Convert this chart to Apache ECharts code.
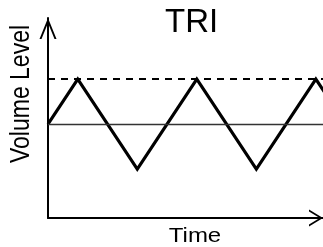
<!DOCTYPE html>
<html>
<head>
<meta charset="utf-8">
<script src="https://cdn.jsdelivr.net/npm/echarts@6/dist/echarts.min.js"></script>
<style>
html,body{margin:0;padding:0;background:#fff;}
#chart{width:323px;height:247px;}
</style>
</head>
<body>
<div id="chart"></div>
<script>
// Data
var titleText = 'TRI';
var xAxisName = 'Time';
var yAxisName = 'Volume Level';
var time  = [0, 1, 3, 5, 7, 9, 10];
var level = [0, 1, -1, 1, -1, 1, 0];
var peakLevel = 1;
var baseLevel = 0;
var timeRange = [0, 9.24];
var levelRange = [-2.09, 2.36];

var FONT = '"Liberation Sans", Arial, Helvetica, sans-serif';
var chart = echarts.init(document.getElementById('chart'), null, {renderer: 'canvas'});

var yArrow = 'path://M8.5,0 L17,21 L15,21 L8.5,4.9 L2,21 L0,21 Z';
var xArrow = 'path://M8.5,0 L17,14 L15,14 L8.5,3.3 L2,14 L0,14 Z';

var seriesData = time.map(function (t, i) { return [t, level[i]]; });

chart.setOption({
  animation: false,
  backgroundColor: '#fff',
  title: {
    text: titleText,
    left: 165,
    top: 6,
    padding: 0,
    textStyle: {fontFamily: FONT, fontSize: 33, fontWeight: 'normal', color: '#000'}
  },
  grid: {left: 48, right: 0, top: 18, bottom: 29, containLabel: false, outerBoundsMode: 'none'},
  xAxis: {
    type: 'value',
    min: timeRange[0], max: timeRange[1],
    axisLine: {show: true, onZero: false, lineStyle: {color: '#000', width: 2},
      symbol: ['none', xArrow], symbolSize: [17, 14], symbolOffset: [0, -7]},
    axisTick: {show: false}, axisLabel: {show: false}, splitLine: {show: false}
  },
  yAxis: {
    type: 'value',
    min: levelRange[0], max: levelRange[1],
    axisLine: {show: true, onZero: false, lineStyle: {color: '#000', width: 2},
      symbol: ['none', yArrow], symbolSize: [17, 21], symbolOffset: [0, -10.5]},
    axisTick: {show: false}, axisLabel: {show: false}, splitLine: {show: false}
  },
  graphic: [
    {type: 'text', x: 21, y: 94, rotation: Math.PI / 2, scaleY: 1.2,
      style: {text: yAxisName, font: '23px ' + FONT, fill: '#000', align: 'center', verticalAlign: 'middle'}},
    {type: 'text', x: 195, y: 236, scaleX: 1.2,
      style: {text: xAxisName, font: '20px ' + FONT, fill: '#000', align: 'center', verticalAlign: 'middle'}}
  ],
  series: [{
    type: 'line',
    data: seriesData,
    symbol: 'none',
    showSymbol: false,
    clip: true,
    lineStyle: {color: '#000', width: 3.2, join: 'miter'},
    markLine: {
      silent: true,
      symbol: ['none', 'none'],
      label: {show: false},
      data: [
        {yAxis: peakLevel, lineStyle: {color: '#000', width: 2, type: [7, 6]}},
        {yAxis: baseLevel, lineStyle: {color: '#333', width: 1.3, type: 'solid'}}
      ]
    }
  }]
});
</script>
</body>
</html>
